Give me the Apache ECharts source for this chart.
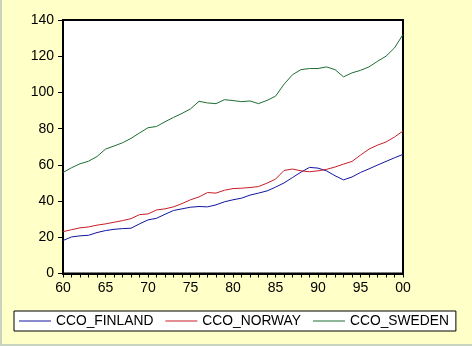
<!DOCTYPE html>
<html>
<head>
<meta charset="utf-8">
<script src="https://cdn.jsdelivr.net/npm/echarts@6/dist/echarts.min.js"></script>
<style>
html,body{margin:0;padding:0;background:#FFFFC8;}
#c{width:472px;height:346px;}
</style>
</head>
<body>
<div id="c"></div>
<script>
const years = [];
for (let y = 1960; y <= 2000; y++) years.push(y);
const finland = [18.2,20.2,20.8,21.1,22.6,23.7,24.4,24.8,25.0,27.4,29.6,30.5,32.7,34.8,35.7,36.6,37.0,36.8,37.9,39.6,40.7,41.6,43.3,44.4,45.6,47.7,50.0,53.0,56.0,58.6,58.2,56.7,54.0,51.7,53.3,55.8,57.8,59.9,61.9,63.9,65.8];
const norway = [23.1,24.2,25.2,25.7,26.7,27.4,28.3,29.2,30.3,32.5,32.9,35.1,35.7,36.8,38.6,40.7,42.3,44.7,44.4,46.0,46.9,47.1,47.5,48.0,49.9,52.1,56.9,57.7,56.7,56.2,56.7,57.5,58.8,60.4,61.9,65.4,68.7,70.9,72.6,75.4,78.7];
const sweden = [55.8,58.4,60.6,62.0,64.6,68.7,70.4,72.2,74.6,77.6,80.5,81.2,83.8,86.2,88.4,90.9,95.1,94.2,93.8,96.0,95.5,94.9,95.3,93.8,95.6,97.9,104.5,109.8,112.6,113.2,113.2,114.1,112.6,108.6,110.8,112.2,114.1,117.2,120.0,124.6,132.0];
const seriesNames = ['CCO_FINLAND','CCO_NORWAY','CCO_SWEDEN'];
const yTicks = [0,20,40,60,80,100,120,140];

const colors = ['#1414A0','#C81E28','#1E6E32'];
const chart = echarts.init(document.getElementById('c'));
const font = 'Liberation Sans, Arial, sans-serif';
const pair = (vals) => years.map((y,i)=>[y, vals[i]]);
chart.setOption({
  animation:false,
  backgroundColor:'#FFFFC8',
  textStyle:{fontFamily:font},
  graphic:[
    {type:'rect', shape:{x:0,y:0,width:2,height:346}, style:{fill:'#C8D4C0'}},
    {type:'rect', shape:{x:0,y:344,width:472,height:2}, style:{fill:'#C8D4C0'}}
  ],
  grid:{left:63,right:69,top:20,bottom:72.5,show:true,backgroundColor:'#FFFFFF',borderColor:'#000',borderWidth:2},
  xAxis:{
    type:'value',min:1960,max:2000,interval:5,
    axisLine:{show:true,lineStyle:{color:'#000',width:2}},
    axisTick:{show:true,length:4,lineStyle:{color:'#000',width:1}},
    minorTick:{show:true,splitNumber:5,length:4,lineStyle:{color:'#000',width:1}},
    splitLine:{show:false},
    axisLabel:{color:'#000',fontSize:14,fontFamily:font,margin:8,
      formatter:v=>String(v%100).padStart(2,'0')}
  },
  yAxis:{
    type:'value',min:yTicks[0],max:yTicks[yTicks.length-1],interval:20,
    axisLine:{show:true,lineStyle:{color:'#000',width:2}},
    axisTick:{show:true,length:5,lineStyle:{color:'#000',width:1}},
    splitLine:{show:false},
    axisLabel:{color:'#000',fontSize:14,fontFamily:font,margin:9}
  },
  legend:{
    left:14,top:311,
    backgroundColor:'#FFFFFF',borderColor:'#000',borderWidth:1,
    padding:[3,7,3,5],itemGap:12,
    icon:'rect',itemWidth:32,itemHeight:1,
    textStyle:{color:'#000',fontSize:13.8,fontFamily:font},
    data:seriesNames
  },
  series:[finland,norway,sweden].map((d,i)=>({
    name:seriesNames[i],type:'line',data:pair(d),symbol:'none',
    lineStyle:{color:colors[i],width:1},itemStyle:{color:colors[i]}
  }))
});
</script>
</body>
</html>
